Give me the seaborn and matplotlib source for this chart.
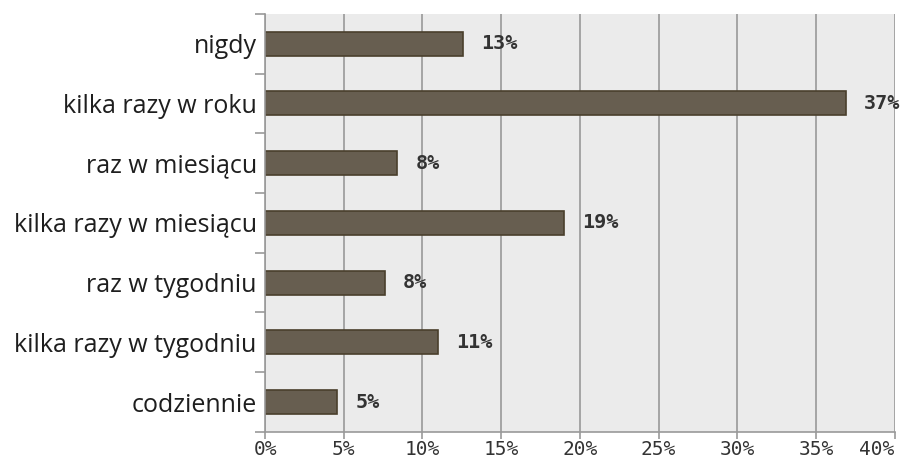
import numpy as np
import pandas as pd
import matplotlib
matplotlib.use("Agg")
import matplotlib.pyplot as plt
import seaborn as sns

categories = ["nigdy", "kilka razy w roku", "raz w miesiącu", "kilka razy w miesiącu",
              "raz w tygodniu", "kilka razy w tygodniu", "codziennie"]
values = [12.6, 36.9, 8.4, 19.0, 7.6, 11.0, 4.6]
labels = ["13%", "37%", "8%", "19%", "8%", "11%", "5%"]
xticks = [0, 5, 10, 15, 20, 25, 30, 35, 40]

df = pd.DataFrame({"cat": categories, "val": values})

sns.set_style("white")
fig = plt.figure(figsize=(9.11, 4.61), dpi=100)
ax = fig.add_axes([0.291, 0.063, 0.691, 0.907])
ax.set_facecolor("#ebebeb")

sns.barplot(data=df, x="val", y="cat", orient="h", color="#675e50",
            edgecolor="#4a3f2c", linewidth=1.2, width=0.4, saturation=1, ax=ax)

ax.set_xlim(0, 40)
ax.set_ylim(6.5, -0.5)
ax.set_xticks(xticks)
ax.set_xticklabels([f"{t}%" for t in xticks], family="DejaVu Sans Mono", fontsize=14, color="#333333")
# last label would run off the right edge
ax.get_xticklabels()[-1].set_horizontalalignment("right")
ax.set_yticks(range(len(categories)))
ax.set_yticklabels(categories, family="Open Sans", fontsize=18, color="#1e1e1e")
ax.set_yticks(np.arange(-0.5, len(categories), 1), minor=True)
ax.tick_params(axis="y", which="major", left=True, length=0, pad=6)
ax.tick_params(axis="y", which="minor", left=True, length=7, color="#999999", width=1.2)
ax.tick_params(axis="x", bottom=True, length=5, color="#999999", width=1.2, pad=1)
ax.xaxis.grid(True, color="#999999", linewidth=1.2)
ax.set_axisbelow(True)
ax.set_xlabel("")
ax.set_ylabel("")
for s in ["top", "right"]:
    ax.spines[s].set_visible(False)
for s in ["left", "bottom"]:
    ax.spines[s].set_color("#999999")
    ax.spines[s].set_linewidth(1.2)

for i, (v, lab) in enumerate(zip(values, labels)):
    ax.annotate(lab, (v, i), xytext=(18, 0), textcoords="offset pixels",
                va="center", ha="left", family="DejaVu Sans Mono", fontweight="bold",
                fontsize=14.5, color="#333333")

fig.savefig("out.png", dpi=100)
